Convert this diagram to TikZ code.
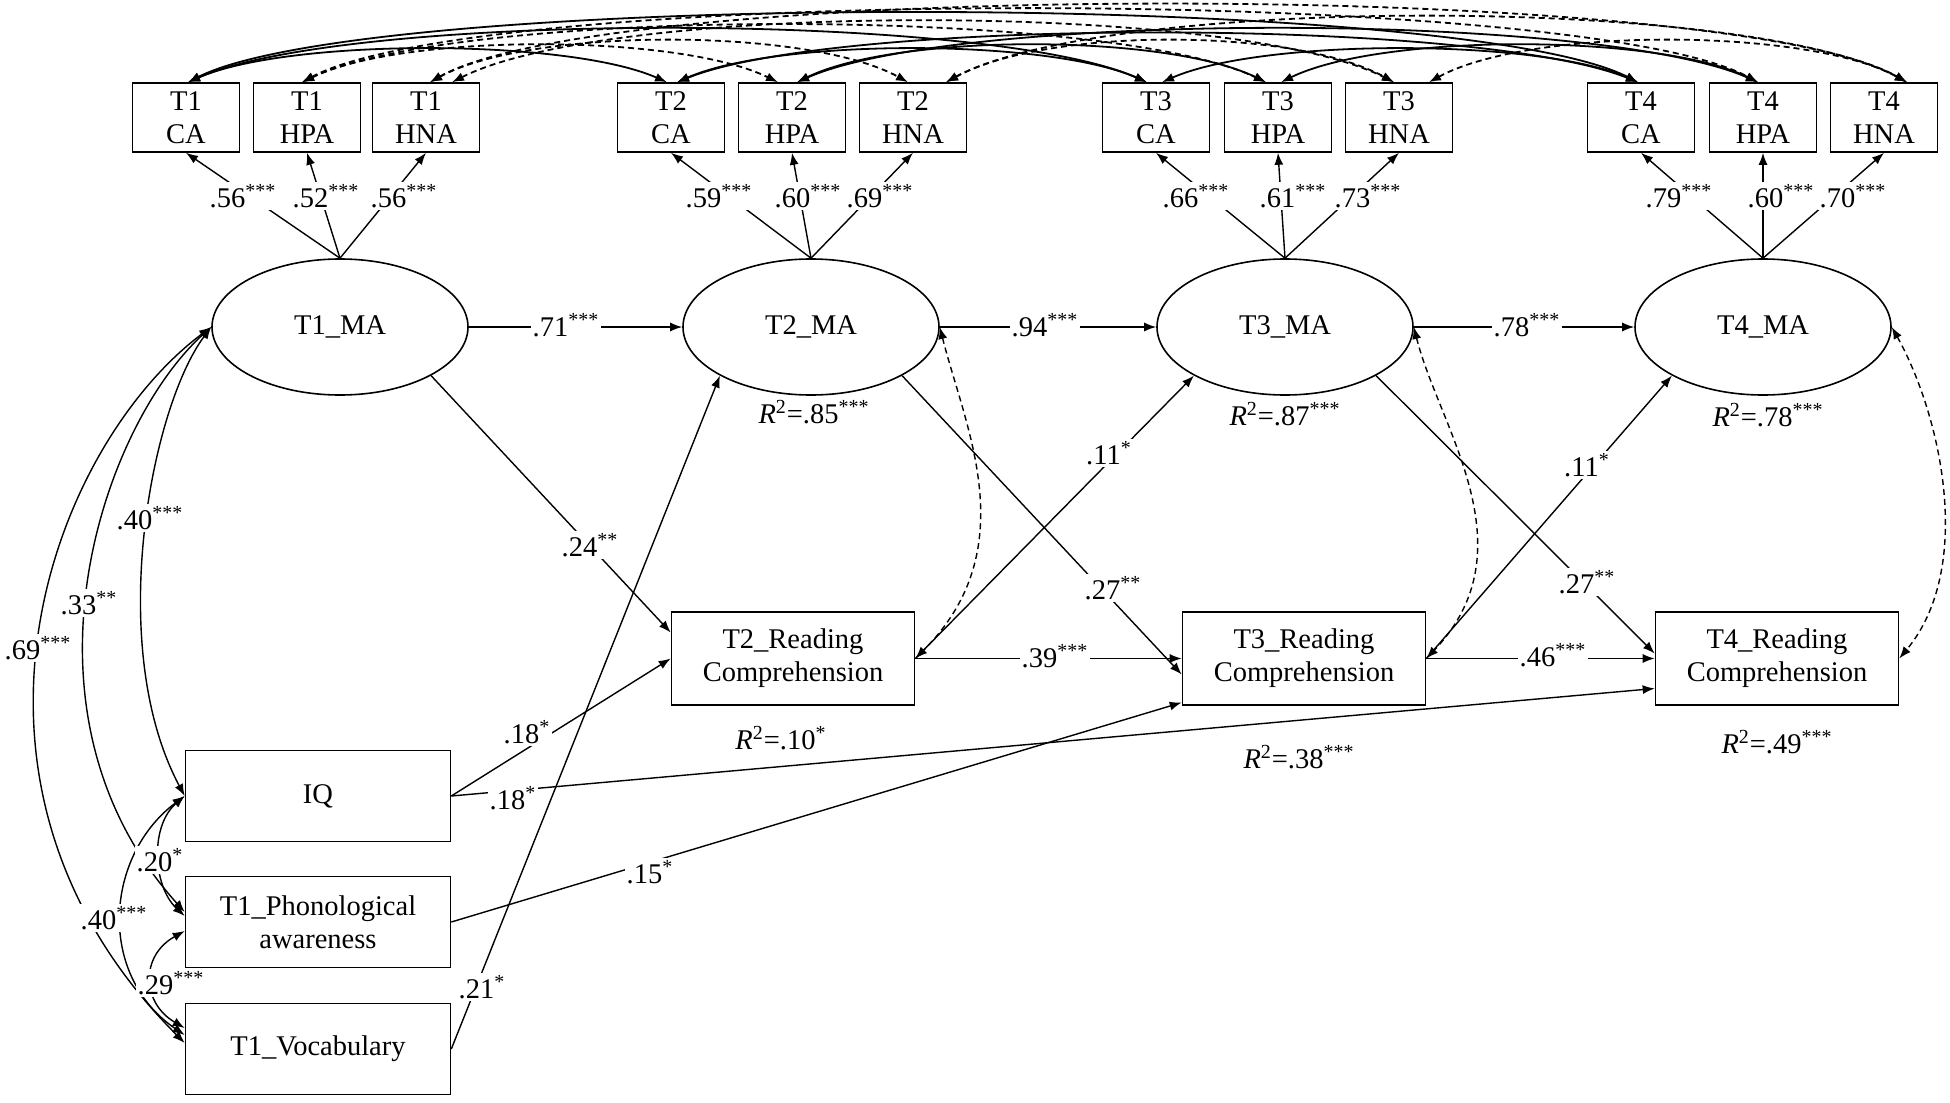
\documentclass[tikz,border=0pt]{standalone}
\usepackage{fontspec}
\setmainfont{Liberation Serif}
\usetikzlibrary{shapes.geometric,arrows.meta,calc}
\newcommand\sg[1]{\textsuperscript{#1}}
\newcommand\rsq[2]{\textit{R}\textsuperscript{2}=#1\textsuperscript{#2}}
\newcommand\tarc[7]{\draw[#1] ($(#2.north)+(#3,0)$) .. controls +(#6,-#7) and +(-#6,-#7) .. ($(#4.north)+(#5,0)$);}
\begin{document}
\begin{tikzpicture}[x=0.5pt,y=-0.5pt,
  every node/.style={font=\fontsize{14.25}{16.5}\selectfont},
  box/.style={draw,line width=0.8pt,rectangle,inner sep=0pt,align=center},
  ind/.style={box,minimum width=53.5pt,minimum height=34.5pt},
  lat/.style={draw,line width=0.8pt,ellipse,inner sep=0pt,minimum width=128pt,minimum height=68pt},
  rc/.style={box,minimum width=121.5pt,minimum height=46.5pt},
  pred/.style={box,minimum width=132.5pt,minimum height=45.5pt},
  lab/.style={fill=white,inner sep=1pt},
  reg/.style={line width=0.7pt,-{Latex[length=6pt,width=4.5pt]}},
  cov/.style={line width=0.7pt,{Latex[length=6pt,width=4.5pt]}-{Latex[length=6pt,width=4.5pt]}},
  dcov/.style={cov,dash pattern=on 3pt off 2pt},
  toparc/.style={line width=0.9pt,{Latex[length=6pt,width=4.5pt]}-{Latex[length=6pt,width=4.5pt]}},
  dtoparc/.style={toparc,dash pattern=on 3pt off 2pt}]
\useasboundingbox (0,0) rectangle (1950,1103);
% indicators
\node[ind] (T1CA)  at (186,117.5) {T1\\CA};
\node[ind] (T1HPA) at (307,117.5) {T1\\HPA};
\node[ind] (T1HNA) at (426,117.5) {T1\\HNA};
\node[ind] (T2CA)  at (671,117.5) {T2\\CA};
\node[ind] (T2HPA) at (792,117.5) {T2\\HPA};
\node[ind] (T2HNA) at (913,117.5) {T2\\HNA};
\node[ind] (T3CA)  at (1156,117.5) {T3\\CA};
\node[ind] (T3HPA) at (1278,117.5) {T3\\HPA};
\node[ind] (T3HNA) at (1399,117.5) {T3\\HNA};
\node[ind] (T4CA)  at (1641,117.5) {T4\\CA};
\node[ind] (T4HPA) at (1763,117.5) {T4\\HPA};
\node[ind] (T4HNA) at (1884,117.5) {T4\\HNA};
% latent
\node[lat] (T1MA) at (340,327) {T1\_MA};
\node[lat] (T2MA) at (811,327) {T2\_MA};
\node[lat] (T3MA) at (1285,327) {T3\_MA};
\node[lat] (T4MA) at (1763,327) {T4\_MA};
% reading
\node[rc] (T2R) at (793,658.5) {T2\_Reading\\Comprehension};
\node[rc] (T3R) at (1304,658.5) {T3\_Reading\\Comprehension};
\node[rc] (T4R) at (1777,658.5) {T4\_Reading\\Comprehension};
% predictors
\node[pred] (IQ) at (318,796) {IQ};
\node[pred] (Pho) at (318,922) {T1\_Phonological\\awareness};
\node[pred] (Voc) at (318,1049) {T1\_Vocabulary};
% R2
\node (r2a) at (814,412) {\rsq{.85}{***}};
\node (r3a) at (1285,414) {\rsq{.87}{***}};
\node (r4a) at (1768,415) {\rsq{.78}{***}};
\node (r2b) at (781,738) {\rsq{.10}{*}};
\node (r3b) at (1299,757) {\rsq{.38}{***}};
\node (r4b) at (1777,742) {\rsq{.49}{***}};
% top arcs CA
\tarc{toparc}{T1CA}{2}{T2CA}{-4}{100}{44}
\tarc{toparc}{T2CA}{6}{T3CA}{-9}{100}{44}
\tarc{toparc}{T3CA}{6}{T4CA}{-3}{100}{44}
\tarc{toparc}{T1CA}{2}{T3CA}{-9}{160}{71}
\tarc{toparc}{T2CA}{6}{T4CA}{-3}{160}{65}
\tarc{toparc}{T1CA}{2}{T4CA}{-3}{180}{92}
% HPA
\tarc{dtoparc}{T1HPA}{-5}{T2HPA}{-14}{100}{49}
\tarc{toparc}{T2HPA}{5}{T3HPA}{-12}{100}{49}
\tarc{toparc}{T3HPA}{3}{T4HPA}{-5}{100}{49}
\tarc{dtoparc}{T1HPA}{-5}{T3HPA}{-12}{160}{76}
\tarc{toparc}{T2HPA}{5}{T4HPA}{-5}{160}{71}
\tarc{dtoparc}{T1HPA}{-5}{T4HPA}{-5}{180}{97}
% HNA
\tarc{dtoparc}{T1HNA}{4}{T2HNA}{-5}{100}{55}
\tarc{dtoparc}{T2HNA}{33}{T3HNA}{-5}{100}{55}
\tarc{dtoparc}{T3HNA}{30}{T4HNA}{23}{100}{55}
\tarc{dtoparc}{T1HNA}{26}{T3HNA}{-5}{160}{81}
\tarc{dtoparc}{T2HNA}{33}{T4HNA}{23}{160}{87}
\tarc{dtoparc}{T1HNA}{4}{T4HNA}{23}{180}{103}
% loadings
\foreach \t in {1,2,3,4}{
  \draw[reg] (T\t MA.north) -- (T\t CA.south);
  \draw[reg] (T\t MA.north) -- (T\t HPA.south);
  \draw[reg] (T\t MA.north) -- (T\t HNA.south);
}
% autoregressive
\draw[reg] (T1MA.east) -- (T2MA.west);
\draw[reg] (T2MA.east) -- (T3MA.west);
\draw[reg] (T3MA.east) -- (T4MA.west);
\draw[reg] (T2R.east) -- (T3R.west);
\draw[reg] (T3R.east) -- (T4R.west);
% cross-lagged
\draw[reg] (T1MA.south east) -- ($(T2R.west)+(0,-26)$);
\draw[reg] (T2MA.south east) -- ($(T3R.west)+(0,16)$);
\draw[reg] (T3MA.south east) -- ($(T4R.west)+(0,-5)$);
\draw[reg] (T2R.east) -- (T3MA.south west);
\draw[reg] (T3R.east) -- (T4MA.south west);
% predictors
\draw[reg] (IQ.east) -- (T2R.west);
\draw[reg] (IQ.east) -- ($(T4R.west)+(0,30)$);
\draw[reg] (Pho.east) -- ($(T3R.west)+(0,44)$);
\draw[reg] (Voc.east) -- (T2MA.south west);
% dashed within-time covariances
\draw[dcov] (T2MA.east) .. controls +(25,100) and +(110,-110) .. (T2R.east);
\draw[dcov] (T3MA.east) .. controls +(25,100) and +(105,-110) .. (T3R.east);
\draw[dcov] (T4MA.east) .. controls +(50,90) and +(75,-90) .. (T4R.east);
% left covariances
\draw[cov] (T1MA.west) .. controls +(-60,80) and +(-80,-150) .. (IQ.west);
\draw[cov] (T1MA.west) .. controls +(-110,100) and +(-180,-200) .. ($(Pho.west)+(0,-10)$);
\draw[cov] (T1MA.west) .. controls +(-160,120) and +(-260,-260) .. ($(Voc.west)+(0,-6)$);
\draw[cov] (IQ.west) .. controls +(-35,30) and +(-32,-30) .. ($(Pho.west)+(0,-6)$);
\draw[cov] (IQ.west) .. controls +(-80,60) and +(-88,-60) .. ($(Voc.west)+(0,-14)$);
\draw[cov] ($(Pho.west)+(0,9)$) .. controls +(-45,25) and +(-43,-25) .. ($(Voc.west)+(0,-21)$);
% labels
\node[lab] (L1a) at (243,196) {.56\sg{***}};
\node[lab] (L1b) at (326,196) {.52\sg{***}};
\node[lab] (L1c) at (404,196) {.56\sg{***}};
\node[lab] (L2a) at (719,196) {.59\sg{***}};
\node[lab] (L2b) at (808,196) {.60\sg{***}};
\node[lab] (L2c) at (880,196) {.69\sg{***}};
\node[lab] (L3a) at (1196,196) {.66\sg{***}};
\node[lab] (L3b) at (1293,196) {.61\sg{***}};
\node[lab] (L3c) at (1368,196) {.73\sg{***}};
\node[lab] (L4a) at (1679,196) {.79\sg{***}};
\node[lab] (L4b) at (1781,196) {.60\sg{***}};
\node[lab] (L4c) at (1853,196) {.70\sg{***}};
\node[lab] (A12) at (566,325) {.71\sg{***}};
\node[lab] (A23) at (1045,325) {.94\sg{***}};
\node[lab] (A34) at (1527,325) {.78\sg{***}};
\node[lab] (R23) at (1055,656) {.39\sg{***}};
\node[lab] (R34) at (1553,655) {.46\sg{***}};
\node[lab] (C1) at (590,545) {.24\sg{**}};
\node[lab] (C2) at (1113,588) {.27\sg{**}};
\node[lab] (C3) at (1587,582) {.27\sg{**}};
\node[lab] (C4) at (1109,453) {.11\sg{*}};
\node[lab] (C5) at (1587,465) {.11\sg{*}};
\node[lab] (P1) at (527,732) {.18\sg{*}};
\node[lab] (P2) at (513,798) {.18\sg{*}};
\node[lab] (P3) at (650,872) {.15\sg{*}};
\node[lab] (P4) at (482,987) {.21\sg{*}};
\node[lab] (V1) at (150,518) {.40\sg{***}};
\node[lab] (V2) at (89,603) {.33\sg{**}};
\node[lab] (V3) at (38,648) {.69\sg{***}};
\node[lab] (V4) at (160,860) {.20\sg{*}};
\node[lab] (V5) at (114,918) {.40\sg{***}};
\node[lab] (V6) at (171,983) {.29\sg{***}};
\end{tikzpicture}
\end{document}
